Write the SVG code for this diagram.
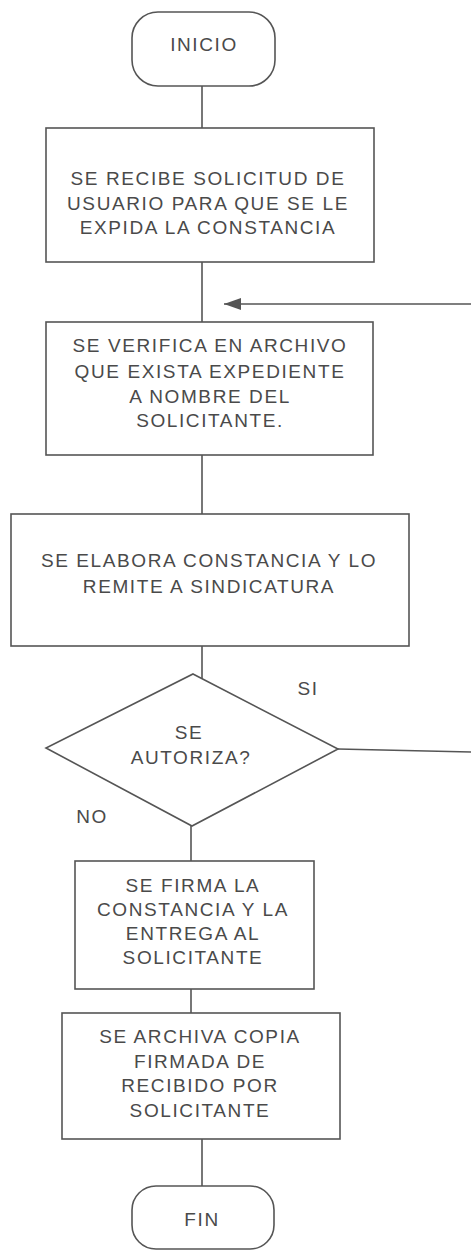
<svg xmlns="http://www.w3.org/2000/svg" width="471" height="1251" viewBox="0 0 471 1251">
<style>
.shape{fill:#fff;stroke:#555;stroke-width:1.6}
.conn{fill:none;stroke:#555;stroke-width:1.6}
.t{font-family:"Liberation Sans",Arial,sans-serif;font-size:19px;letter-spacing:1.6px;fill:#4a4a4a;text-anchor:middle}
</style>
<defs>
<marker id="arr" markerWidth="18" markerHeight="12" refX="17" refY="6" orient="auto" markerUnits="userSpaceOnUse">
<path d="M0,0 L17,6 L0,12 Z" fill="#555"/>
</marker>
</defs>
<rect width="471" height="1251" fill="#fff"/>
<g id="connectors">
<line class="conn" x1="202" y1="86" x2="202" y2="128"/>
<line class="conn" x1="202" y1="262" x2="202" y2="322"/>
<line class="conn" x1="202" y1="455" x2="202" y2="514"/>
<line class="conn" x1="202" y1="646" x2="202" y2="679"/>
<line class="conn" x1="191" y1="826" x2="191" y2="861"/>
<line class="conn" x1="191" y1="989" x2="191" y2="1013"/>
<line class="conn" x1="202" y1="1139" x2="202" y2="1186"/>
<line class="conn" x1="338" y1="749" x2="471" y2="752"/>
<line class="conn" x1="471" y1="304" x2="224" y2="304" marker-end="url(#arr)"/>
</g>
<g id="inicio">
<rect class="shape" x="132" y="12" width="143" height="74" rx="26" ry="26"/>
<text class="t" x="204" y="51">INICIO</text>
</g>
<g id="recibe">
<rect class="shape" x="46" y="128" width="328" height="134"/>
<text class="t" x="208" y="184.5">SE RECIBE SOLICITUD DE</text>
<text class="t" x="208" y="209.5">USUARIO PARA QUE SE LE</text>
<text class="t" x="208" y="234">EXPIDA LA CONSTANCIA</text>
</g>
<g id="verifica">
<rect class="shape" x="46" y="322" width="327" height="133"/>
<text class="t" x="210" y="352">SE VERIFICA EN ARCHIVO</text>
<text class="t" x="210" y="378">QUE EXISTA EXPEDIENTE</text>
<text class="t" x="210" y="403">A NOMBRE DEL</text>
<text class="t" x="210" y="427">SOLICITANTE.</text>
</g>
<g id="elabora">
<rect class="shape" x="11" y="514" width="398" height="132"/>
<text class="t" x="209" y="567">SE ELABORA CONSTANCIA Y LO</text>
<text class="t" x="209" y="593">REMITE A SINDICATURA</text>
</g>
<g id="autoriza">
<polygon class="shape" points="193,674 338,749 192,826 46,748"/>
<text class="t" x="189" y="739">SE</text>
<text class="t" x="191" y="764">AUTORIZA?</text>
</g>
<g id="labels">
<text class="t" x="308" y="695">SI</text>
<text class="t" x="92" y="823">NO</text>
</g>
<g id="firma">
<rect class="shape" x="75" y="861" width="239" height="128"/>
<text class="t" x="193" y="892">SE FIRMA LA</text>
<text class="t" x="193" y="916">CONSTANCIA Y LA</text>
<text class="t" x="193" y="940">ENTREGA AL</text>
<text class="t" x="193" y="964">SOLICITANTE</text>
</g>
<g id="archiva">
<rect class="shape" x="62" y="1013" width="278" height="126"/>
<text class="t" x="200" y="1043">SE ARCHIVA COPIA</text>
<text class="t" x="200" y="1068">FIRMADA DE</text>
<text class="t" x="200" y="1092">RECIBIDO POR</text>
<text class="t" x="200" y="1117">SOLICITANTE</text>
</g>
<g id="fin">
<rect class="shape" x="132" y="1186" width="142" height="63" rx="24" ry="24"/>
<text class="t" x="202" y="1226">FIN</text>
</g>
</svg>
